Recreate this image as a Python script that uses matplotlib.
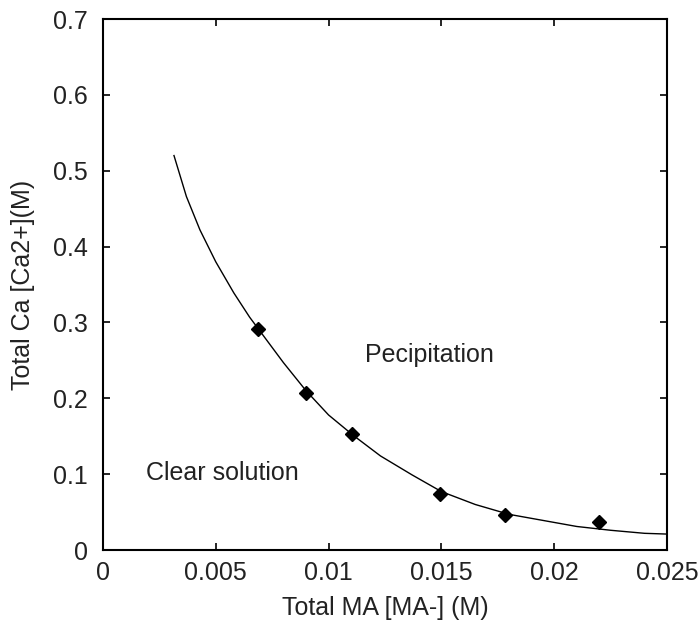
import matplotlib
matplotlib.use("Agg")
import matplotlib.pyplot as plt

# Measured points
ma_points = [0.00688, 0.0090, 0.01105, 0.01494, 0.01782, 0.02199]
ca_points = [0.292, 0.207, 0.153, 0.0738, 0.0461, 0.0365]

# Fitted boundary curve
ma_curve = [0.00315, 0.0037, 0.0043, 0.0050, 0.0058, 0.0065, 0.0072,
            0.0080, 0.0090, 0.0100, 0.0111, 0.0123, 0.0137, 0.0150,
            0.0165, 0.0180, 0.0195, 0.0210, 0.0225, 0.0240, 0.0250]
ca_curve = [0.520, 0.466, 0.422, 0.380, 0.339, 0.307, 0.279,
            0.247, 0.210, 0.178, 0.151, 0.124, 0.099, 0.077,
            0.060, 0.047, 0.039, 0.031, 0.026, 0.022, 0.021]

xticks = [0, 0.005, 0.01, 0.015, 0.02, 0.025]
xtick_labels = ["0", "0.005", "0.01", "0.015", "0.02", "0.025"]
yticks = [0, 0.1, 0.2, 0.3, 0.4, 0.5, 0.6, 0.7]
ytick_labels = ["0", "0.1", "0.2", "0.3", "0.4", "0.5", "0.6", "0.7"]

plt.rcParams["font.family"] = ["Liberation Sans", "DejaVu Sans"]
plt.rcParams["font.size"] = 18
text_col = "#222222"

fig = plt.figure(figsize=(7.0, 6.26), dpi=100)
ax = fig.add_axes([0.147, 0.1214, 0.806, 0.8482])

ax.plot(ma_curve, ca_curve, "-", color="black", linewidth=1.0)
ax.plot(ma_points, ca_points, "D", color="black", markersize=7)

ax.text(0.0019, 0.102, "Clear solution", ha="left", va="center", color=text_col)
ax.text(0.0116, 0.257, "Pecipitation", ha="left", va="center", color=text_col)

ax.set_xlim(0, 0.025)
ax.set_ylim(0, 0.7)
ax.set_xticks(xticks)
ax.set_xticklabels(xtick_labels)
ax.set_yticks(yticks)
ax.set_yticklabels(ytick_labels)
ax.tick_params(direction="in", top=True, right=True, length=5, width=1.2,
               labelcolor=text_col)
ax.tick_params(axis="y", pad=11)
ax.tick_params(axis="x", pad=8)
for s in ax.spines.values():
    s.set_linewidth(1.5)

ax.set_xlabel("Total MA [MA-] (M)", labelpad=8, color=text_col)
ax.set_ylabel("Total Ca [Ca2+](M)", labelpad=13, color=text_col)

fig.savefig("out.png", dpi=100)
